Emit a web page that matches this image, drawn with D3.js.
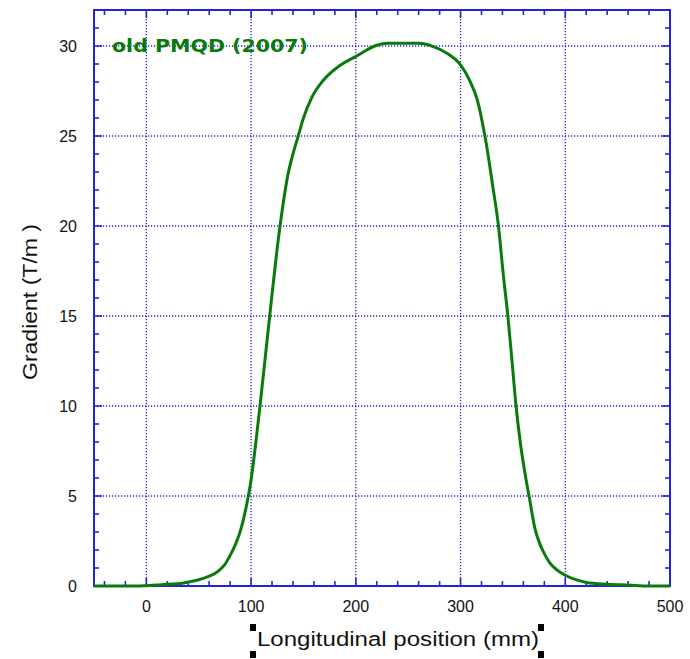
<!DOCTYPE html>
<html>
<head>
<meta charset="utf-8">
<style>
  body { margin: 0; background: #fff; }
  .tick-label { font: 16px "Liberation Sans", Arial, sans-serif; fill: #111; }
  .axis-title { font: 20px "Liberation Sans", Arial, sans-serif; fill: #111; }
  .legend { font: bold 17px "DejaVu Sans", sans-serif; fill: #0a7a0a; }
</style>
<script src="https://d3js.org/d3.v7.min.js"></script>
</head>
<body>
<svg width="690" height="659"></svg>
<script>
// longitudinal position (mm) and field gradient (T/m)
var posMM = [-50, -30, -10, 0, 10, 20, 30, 40, 50, 60, 65, 70, 75, 80, 85, 90, 95, 100, 105, 110,
             115, 120, 125, 130, 135, 140, 145, 150, 158, 169, 182, 201, 220, 230, 245, 260, 274,
             287, 300, 309, 316, 322, 327, 330, 336, 341, 345, 349, 353, 357, 362, 366, 371, 376,
             380, 385, 392, 400, 410, 420, 440, 460, 480, 500];
var gradient = [0, 0, 0, 0.02, 0.05, 0.1, 0.12, 0.22, 0.35, 0.55, 0.68, 0.9, 1.2, 1.7, 2.3, 3.1, 4.3, 5.9, 8.2, 10.8,
                13.5, 16.2, 18.8, 21.0, 22.8, 24.0, 25.0, 26.0, 27.15, 28.1, 28.8, 29.45, 30.04, 30.15, 30.15, 30.15, 29.97,
                29.6, 28.95, 28.05, 27.0, 25.4, 23.7, 22.5, 20.1, 17.2, 15.1, 12.6, 10.0, 8.0, 6.1, 4.8, 3.2, 2.3,
                1.8, 1.3, 0.9, 0.6, 0.35, 0.2, 0.1, 0.05, 0, 0];
var xTicks = [0, 100, 200, 300, 400, 500];
var yTicks = [0, 5, 10, 15, 20, 25, 30];
var seriesName = "old PMQD (2007)";

var svg = d3.select("svg");
var mLeft = 94, mTop = 10, w = 576, h = 576;
var blue = "#2323d9";

var x = d3.scaleLinear().domain([-50, 500]).range([mLeft, mLeft + w]);
var y = d3.scaleLinear().domain([0, 32]).range([mTop + h, mTop]);

// dotted grid
svg.append("g").selectAll("line").data(xTicks.filter(function(d) { return d < 500; }))
  .enter().append("line")
  .attr("x1", function(d) { return x(d); }).attr("x2", function(d) { return x(d); })
  .attr("y1", mTop).attr("y2", mTop + h)
  .attr("stroke", blue).attr("stroke-width", 1.3).attr("stroke-dasharray", "1.2,1.8");
svg.append("g").selectAll("line").data(yTicks.filter(function(d) { return d > 0; }))
  .enter().append("line")
  .attr("x1", mLeft).attr("x2", mLeft + w)
  .attr("y1", function(d) { return y(d); }).attr("y2", function(d) { return y(d); })
  .attr("stroke", blue).attr("stroke-width", 1.3).attr("stroke-dasharray", "1.2,1.8");

// inward ticks on all four sides
var xMinor = d3.range(-40, 500, 20);
var yMinor = d3.range(1, 32, 1);
function tickLen(isMajor) { return isMajor ? 8 : 5; }
var tg = svg.append("g").attr("stroke", blue).attr("stroke-width", 1.6);
xMinor.forEach(function(d) {
  var L = tickLen(d % 100 === 0);
  tg.append("line").attr("x1", x(d)).attr("x2", x(d)).attr("y1", mTop + h).attr("y2", mTop + h - L);
  tg.append("line").attr("x1", x(d)).attr("x2", x(d)).attr("y1", mTop).attr("y2", mTop + L);
});
yMinor.forEach(function(d) {
  var L = tickLen(d % 5 === 0);
  tg.append("line").attr("y1", y(d)).attr("y2", y(d)).attr("x1", mLeft).attr("x2", mLeft + L);
  tg.append("line").attr("y1", y(d)).attr("y2", y(d)).attr("x1", mLeft + w).attr("x2", mLeft + w - L);
});

// frame
svg.append("rect").attr("x", mLeft).attr("y", mTop).attr("width", w).attr("height", h)
  .attr("fill", "none").attr("stroke", blue).attr("stroke-width", 2);

// tick labels
svg.append("g").selectAll("text").data(xTicks).enter().append("text")
  .attr("class", "tick-label").attr("text-anchor", "middle")
  .attr("x", function(d) { return x(d); }).attr("y", mTop + h + 26)
  .text(function(d) { return d; });
svg.append("g").selectAll("text").data(yTicks).enter().append("text")
  .attr("class", "tick-label").attr("text-anchor", "end")
  .attr("x", 77).attr("y", function(d) { return y(d) + 6; })
  .text(function(d) { return d; });

// curve
var line = d3.line()
  .x(function(d, i) { return x(posMM[i]); })
  .y(function(d) { return y(d); })
  .curve(d3.curveMonotoneX);
svg.append("path").datum(gradient)
  .attr("d", line).attr("fill", "none")
  .attr("stroke", "#0a7a0a").attr("stroke-width", 3);

// legend label
svg.append("text").attr("class", "legend")
  .attr("x", 112).attr("y", 52)
  .attr("textLength", 196).attr("lengthAdjust", "spacingAndGlyphs")
  .text(seriesName);

// axis titles
svg.append("text").attr("class", "axis-title")
  .attr("transform", "translate(37,302) rotate(-90)")
  .attr("text-anchor", "middle")
  .attr("textLength", 156).attr("lengthAdjust", "spacingAndGlyphs")
  .text("Gradient (T/m )");
svg.append("text").attr("class", "axis-title")
  .attr("x", 398).attr("y", 646).attr("text-anchor", "middle")
  .attr("textLength", 282).attr("lengthAdjust", "spacingAndGlyphs")
  .text("Longitudinal position (mm)");

// selection handles around the x-axis title
[[250, 624], [538, 624], [250, 651], [538, 651]].forEach(function(p) {
  svg.append("rect").attr("x", p[0]).attr("y", p[1]).attr("width", 6).attr("height", 7).attr("fill", "#000");
});
</script>
</body>
</html>
